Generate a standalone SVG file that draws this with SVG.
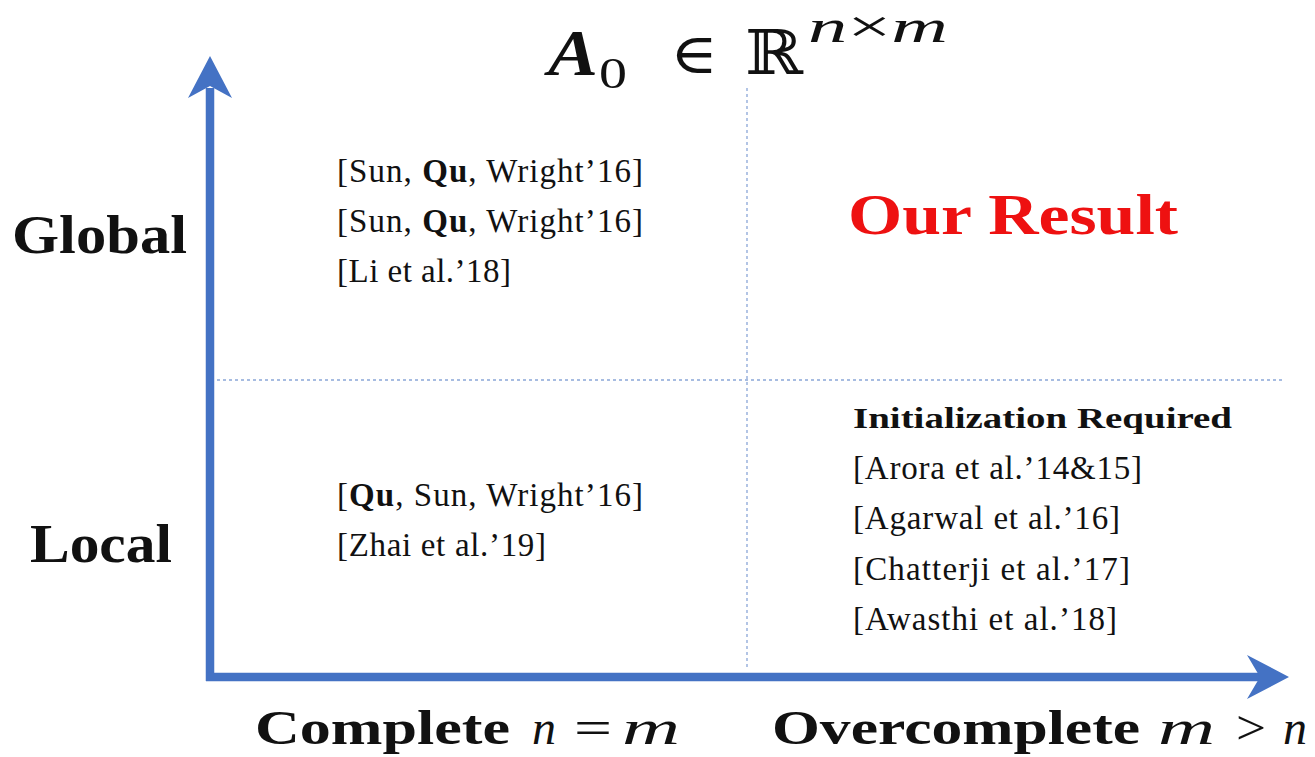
<svg xmlns="http://www.w3.org/2000/svg" width="1315" height="757" viewBox="0 0 1315 757">
<style>
.axis{stroke:#4472c4;stroke-width:8.5;fill:none}
.head{fill:#4472c4}
.grid{stroke:#8aa6d8;stroke-width:1.3;stroke-dasharray:3 3;fill:none}
.ref{font-family:"Liberation Serif","DejaVu Serif",serif;font-size:33px;fill:#111}
.lbl{font-family:"Liberation Serif","DejaVu Serif",serif;font-weight:bold;fill:#111}
.math{font-family:"Liberation Serif","DejaVu Serif",serif;fill:#111}
</style>
<rect width="1315" height="757" fill="#fff"/>
<g id="connectors">
<line class="grid" x1="747" y1="88" x2="747" y2="670"/>
<line class="grid" x1="217" y1="380" x2="1285" y2="380"/>
<line class="axis" x1="210" y1="681" x2="210" y2="88"/>
<line class="axis" x1="206" y1="677" x2="1264" y2="677"/>
<path class="head" d="M210,56 L232,98 L210,86 L188,98 Z"/>
<path class="head" d="M1289,677 L1247,655 L1260,677 L1247,699 Z"/>
</g>
<g id="title">
<text class="math" x="548" y="75" font-size="66" font-weight="bold" font-style="italic" textLength="50" lengthAdjust="spacingAndGlyphs">A</text>
<text class="math" x="599" y="88" font-size="44" textLength="28" lengthAdjust="spacingAndGlyphs">0</text>
<text x="670" y="73" font-size="56" font-family="DejaVu Serif,serif" fill="#111" textLength="48" lengthAdjust="spacingAndGlyphs">∈</text>
<text x="745" y="74" font-size="62" font-family="DejaVu Serif,serif" fill="#111" textLength="58" lengthAdjust="spacingAndGlyphs">ℝ</text>
<text class="math" x="808" y="42" font-size="46" textLength="140" lengthAdjust="spacingAndGlyphs"><tspan font-style="italic">n</tspan>×<tspan font-style="italic">m</tspan></text>
</g>
<g id="global-label"><text class="lbl" x="12" y="253" font-size="54" textLength="175" lengthAdjust="spacingAndGlyphs">Global</text></g>
<g id="local-label"><text class="lbl" x="30" y="562" font-size="54" textLength="142" lengthAdjust="spacingAndGlyphs">Local</text></g>
<g id="top-left">
<text class="ref" x="337" y="182" textLength="306">[Sun, <tspan font-weight="bold">Qu</tspan>, Wright’16]</text>
<text class="ref" x="337" y="232" textLength="306">[Sun, <tspan font-weight="bold">Qu</tspan>, Wright’16]</text>
<text class="ref" x="337" y="282" textLength="174">[Li et al.’18]</text>
</g>
<g id="our-result"><text x="848" y="234" font-family="Liberation Serif,serif" font-weight="bold" font-size="58" fill="#ee1111" textLength="330" lengthAdjust="spacingAndGlyphs">Our Result</text></g>
<g id="bottom-left">
<text class="ref" x="337" y="506" textLength="306">[<tspan font-weight="bold">Qu</tspan>, Sun, Wright’16]</text>
<text class="ref" x="337" y="556" textLength="209">[Zhai et al.’19]</text>
</g>
<g id="bottom-right">
<text class="lbl" x="853" y="428" font-size="29" textLength="379" lengthAdjust="spacingAndGlyphs">Initialization Required</text>
<text class="ref" x="853" y="479" textLength="289">[Arora et al.’14&amp;15]</text>
<text class="ref" x="853" y="529" textLength="267">[Agarwal et al.’16]</text>
<text class="ref" x="853" y="580" textLength="277">[Chatterji et al.’17]</text>
<text class="ref" x="853" y="630" textLength="264">[Awasthi et al.’18]</text>
</g>
<g id="complete-label">
<text class="lbl" x="255" y="744" font-size="48" textLength="255" lengthAdjust="spacingAndGlyphs">Complete</text>
<text class="math" x="532" y="744" font-size="48" font-style="italic">n</text>
<text class="math" x="574" y="744" font-size="48" textLength="38" lengthAdjust="spacingAndGlyphs">=</text>
<text class="math" x="622" y="744" font-size="48" font-style="italic" textLength="58" lengthAdjust="spacingAndGlyphs">m</text>
</g>
<g id="overcomplete-label">
<text class="lbl" x="772" y="744" font-size="48" textLength="368" lengthAdjust="spacingAndGlyphs">Overcomplete</text>
<text class="math" x="1158" y="744" font-size="48" font-style="italic" textLength="57" lengthAdjust="spacingAndGlyphs">m</text>
<text class="math" x="1236" y="744" font-size="48" textLength="30" lengthAdjust="spacingAndGlyphs">&gt;</text>
<text class="math" x="1283" y="744" font-size="48" font-style="italic">n</text>
</g>
</svg>
